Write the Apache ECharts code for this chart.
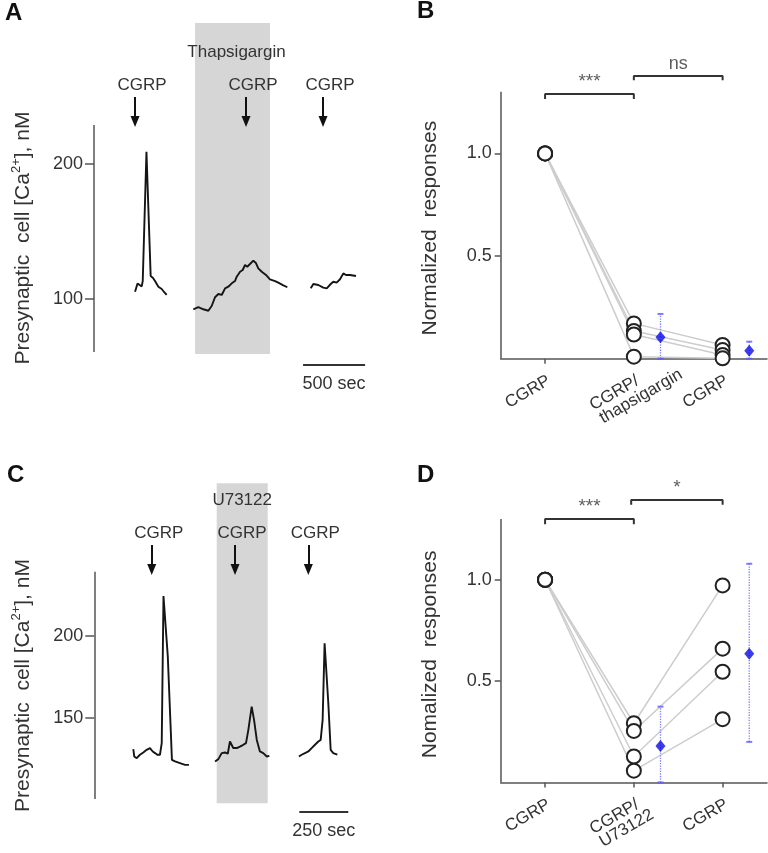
<!DOCTYPE html>
<html><head><meta charset="utf-8">
<script src="https://cdn.jsdelivr.net/npm/echarts@6/dist/echarts.min.js"></script>
<style>html,body{margin:0;padding:0;background:#fff}#c{width:768px;height:853px}</style>
</head><body><div id="c"></div>
<script>
// ================= DATA =================
// Panel A: presynaptic [Ca2+] (nM) vs time (s)
const traceA1 = [[331,105.4],[351,111.5],[367,112.6],[385,109.3],[393,113.3],[423,209.1],[457,117],[476,115.6],[492,113.3],[519,109.1],[546,107.4],[565,105.2],[586,103]];
const traceA2 = [[801,92.4],[841,93.9],[882,92.4],[922,91.3],[949,94.8],[976,101.3],[1003,103.7],[1030,103],[1057,107.9],[1083,109.1],[1111,111.6],[1137,113.3],[1151,116.5],[1178,120.2],[1199,121.5],[1218,125.2],[1236,123.9],[1258,125.9],[1285,128.4],[1304,126.9],[1325,122.7],[1353,120.2],[1387,117.8],[1419,114.6],[1460,113.3],[1486,112.1],[1527,110.1],[1559,108.7]];
const traceA3 = [[1748,107.9],[1769,111.1],[1809,110.4],[1849,108.4],[1877,107.9],[1909,111.1],[1930,112.8],[1957,112.1],[1984,114.6],[2011,119],[2032,117.8],[2065,117.8],[2113,117]];
const cgrpTimesA = [331, 1226, 1847];
const drugA = 'Thapsigargin';
const drugWindowA = [815, 1419];
const scaleBarA = [1686, 2186];
const scaleLabelA = '500 sec';
const yTicksA = [100, 200];

// Panel C
const traceC1 = [[199,130.6],[204,126.1],[216,125.1],[233,127.2],[250,128.6],[267,130.2],[284,131.3],[298,129.2],[310,128.2],[321,127.2],[335,127.2],[344,134.3],[353,224.5],[375,187.4],[390,142.5],[396,124.1],[412,123.1],[437,122.1],[463,121],[483,121]];
const traceC2 = [[616,123.1],[633,124.5],[650,128.2],[667,128.6],[681,127.8],[692,135.3],[701,136.3],[709,131.3],[727,131.3],[743,132.2],[760,133.3],[774,134.3],[786,142.5],[803,156.7],[815,148.6],[829,136.3],[845,129.2],[862,128.2],[880,126.1],[893,126.5]];
const traceC3 = [[1044,126.1],[1058,127.2],[1075,128.2],[1092,129.2],[1109,131.3],[1126,133.3],[1143,135.3],[1155,136.3],[1165,148.6],[1175,195.6],[1194,158.8],[1206,130.2],[1219,128.2],[1240,127.2]];
const cgrpTimesC = [293, 718, 1092];
const drugC = 'U73122';
const drugWindowC = [624.5, 884.7];
const scaleBarC = [1046, 1296];
const scaleLabelC = '250 sec';
const yTicksC = [150, 200];

// Panel B: normalized responses (one row per cell: CGRP, CGRP/thapsigargin, CGRP)
const catsB = ['CGRP', 'CGRP/\nthapsigargin', 'CGRP'];
const cellsB = [[1, 0.172, 0.067], [1, 0.135, 0.042], [1, 0.118, 0.018], [1, 0.01, 0.002]];
const meanB = [0.104, 0.039];
const errHighB = [0.218, 0.083];
const errLowB = [0, 0];
const sigB = ['***', 'ns'];

// Panel D
const catsD = ['CGRP', 'CGRP/\nU73122', 'CGRP'];
const cellsD = [[1, 0.292, 0.972], [1, 0.254, 0.660], [1, 0.128, 0.546], [1, 0.058, 0.312]];
const meanD = [0.18, 0.635];
const errHighD = [0.374, 1.079];
const errLowD = [0, 0.2];
const sigD = ['***', '*'];
const yTicksBD = [0.5, 1.0];

// ================= LAYOUT / STYLE =================
const F = 'Liberation Sans, Arial, Helvetica, sans-serif';
const TXT = '#333';
const AX = '#555';
const layoutA = { axisRange: [60.7, 228.9], arrow: [249.6, 231.5], band: [59.3, 304.4], bar: 51.1, drugDist: 21, drugPad: 8 };
const layoutC = { axisRange: [100, 239.4], arrow: [255.8, 240.8], band: [97.4, 293.7], bar: 92.3, drugDist: 9, drugPad: 0 };
const meanOffset = 0.3;
const bracketsB = [{ x: [1, 2], top: 1.289, leg: 1.265 }, { x: [2, 3], top: 1.377, leg: 1.356 }];
const bracketsD = [{ x: [1, 2], top: 1.30, leg: 1.274 }, { x: [1.97, 3], top: 1.394, leg: 1.37 }];

const grids = [
  { left: 94, top: 2, width: 272.8, height: 405 },
  { left: 500.7, top: 40.5, width: 266.3, height: 318.2 },
  { left: 94.3, top: 473, width: 254.8, height: 375 },
  { left: 500.7, top: 468.3, width: 266.3, height: 315.1 }
];

function traceAxisY(gi, min, max, ticks, nameShift) {
  return {
    gridIndex: gi, type: 'value', min, max,
    axisLine: { show: false }, splitLine: { show: false },
    axisTick: { show: true, customValues: ticks, length: 9, lineStyle: { color: AX, width: 1.5 } },
    axisLabel: { customValues: ticks, margin: 11, fontSize: 18, color: TXT, fontFamily: F },
    name: '{n|Presynaptic  cell [Ca}{s|2+}{n|], nM}',
    nameLocation: 'middle', nameRotate: 90, nameGap: 58,
    nameTextStyle: {
      padding: [0, nameShift, 0, 0],
      rich: {
        n: { fontSize: 21, lineHeight: 26, color: TXT, fontFamily: F },
        s: { fontSize: 13, lineHeight: 13, verticalAlign: 'top', color: TXT, fontFamily: F }
      }
    }
  };
}
function respAxisY(gi, name, nameShift) {
  return {
    gridIndex: gi, type: 'value', min: 0, max: 1.55,
    axisLine: { show: false }, splitLine: { show: false },
    axisTick: { show: true, customValues: yTicksBD, length: 6, lineStyle: { color: AX, width: 1.5 } },
    axisLabel: { customValues: yTicksBD, formatter: v => v.toFixed(1), margin: 9, fontSize: 18, color: TXT, fontFamily: F },
    name, nameLocation: 'middle', nameRotate: 90, nameGap: 60,
    nameTextStyle: { fontSize: 21, color: TXT, fontFamily: F, padding: [0, nameShift, 0, 0] }
  };
}
function respAxisX(gi, cats) {
  return {
    gridIndex: gi, type: 'value', min: 0.5, max: 3.5,
    axisLine: { show: true, onZero: false, lineStyle: { color: AX, width: 1.5 } },
    splitLine: { show: false },
    axisTick: { show: true, customValues: [1, 2, 3], length: 5, lineStyle: { color: AX, width: 1.5 } },
    axisLabel: {
      customValues: [1, 2, 3], rotate: 30, margin: 14, verticalAlign: 'top',
      fontSize: 17, lineHeight: 16, color: TXT, fontFamily: F,
      formatter: v => {
        const s = cats[Math.round(v) - 1];
        if (s.indexOf('\n') >= 0) {
          const p = s.split('\n');
          return '{a|' + p[0] + '}\n{b|' + p[1] + '}';
        }
        return s;
      },
      rich: {
        a: { width: 52, align: 'right', overflow: 'none', fontSize: 17, lineHeight: 16, color: TXT, fontFamily: F },
        b: { width: 52, align: 'left', overflow: 'none', fontSize: 17, lineHeight: 16, color: TXT, fontFamily: F }
      }
    }
  };
}

function traceSeries(data, gi) {
  return { type: 'line', xAxisIndex: gi, yAxisIndex: gi, data, symbol: 'none', showSymbol: false, silent: true, z: 4,
    lineStyle: { color: '#151515', width: 1.9 } };
}
function traceFrame(gi, L, cgrpTimes, drug, win, bar, barLabel) {
  const lines = [[{ coord: [0, L.axisRange[0]] }, { coord: [0, L.axisRange[1]] }]];
  cgrpTimes.forEach(t => {
    lines.push([
      { coord: [t, L.arrow[0]], symbol: 'none', lineStyle: { color: '#111', width: 2, type: 'solid' },
        label: { show: true, position: 'start', formatter: 'CGRP', distance: 3, fontSize: 17, color: TXT, fontFamily: F, padding: [0, 0, 0, 14] } },
      { coord: [t, L.arrow[1]], symbol: 'triangle', symbolSize: [9, 11] }
    ]);
  });
  lines.push([
    { coord: [bar[0], L.bar], lineStyle: { color: '#333', width: 2, type: 'solid' },
      label: { show: true, position: 'insideMiddleBottom', formatter: barLabel, distance: 10, fontSize: 18, color: TXT, fontFamily: F } },
    { coord: [bar[1], L.bar] }
  ]);
  return {
    type: 'line', xAxisIndex: gi, yAxisIndex: gi, data: [], silent: true,
    markArea: {
      silent: true, itemStyle: { color: '#d6d6d6' },
      label: { show: true, position: 'insideTop', distance: L.drugDist, fontSize: 17, color: TXT, fontFamily: F, padding: [0, 0, 0, L.drugPad] },
      data: [[{ name: drug, coord: [win[0], L.band[0]] }, { coord: [win[1], L.band[1]] }]]
    },
    markLine: {
      silent: true, symbol: 'none', animation: false,
      label: { show: false },
      lineStyle: { color: AX, width: 1.5, type: 'solid' },
      data: lines
    }
  };
}

function respSeries(gi, cells, mean, hi, lo, sig, brackets) {
  const s = [];
  s.push({ type: 'line', xAxisIndex: gi, yAxisIndex: gi, data: [], silent: true,
    markLine: { silent: true, symbol: 'none', animation: false, label: { show: false },
      lineStyle: { color: AX, width: 1.5, type: 'solid' },
      data: [[{ coord: [0.5, 0] }, { coord: [0.5, 1.3] }]] } });
  cells.forEach(c => s.push({ type: 'line', xAxisIndex: gi, yAxisIndex: gi, silent: true, z: 2,
    data: c.map((v, i) => [i + 1, v]), symbol: 'none', showSymbol: false,
    lineStyle: { color: '#cdcdcd', width: 1.5 } }));
  const pts = [];
  cells.forEach(c => c.forEach((v, i) => pts.push([i + 1, v])));
  s.push({ type: 'scatter', xAxisIndex: gi, yAxisIndex: gi, silent: true, z: 5, data: pts,
    symbol: 'circle', symbolSize: 14, itemStyle: { color: '#fff', borderColor: '#222', borderWidth: 2, opacity: 1 } });
  mean.forEach((m, i) => {
    const x = i + 2 + meanOffset;
    s.push({ type: 'line', xAxisIndex: gi, yAxisIndex: gi, silent: true, z: 3,
      data: [[x, lo[i]], [x, hi[i]]], symbol: 'none', showSymbol: false,
      lineStyle: { color: '#8080ff', width: 1.3, type: 'dotted' } });
    s.push({ type: 'scatter', xAxisIndex: gi, yAxisIndex: gi, silent: true, z: 4,
      data: [[x, lo[i]], [x, hi[i]]], symbol: 'rect', symbolSize: [6, 2], itemStyle: { color: '#5c5cff' } });
    s.push({ type: 'scatter', xAxisIndex: gi, yAxisIndex: gi, silent: true, z: 6,
      data: [[x, m]], symbol: 'diamond', symbolSize: [10, 12], itemStyle: { color: '#0b0be6' } });
  });
  brackets.forEach((b, i) => {
    s.push({ type: 'line', xAxisIndex: gi, yAxisIndex: gi, silent: true, z: 3,
      data: [[b.x[0], b.leg], [b.x[0], b.top], [b.x[1], b.top], [b.x[1], b.leg]],
      symbol: 'none', showSymbol: false, lineStyle: { color: '#333', width: 2 } });
    s.push({ type: 'scatter', xAxisIndex: gi, yAxisIndex: gi, silent: true, z: 3,
      data: [[(b.x[0] + b.x[1]) / 2, b.top]], symbolSize: 0,
      label: { show: true, position: 'top', distance: 3, formatter: sig[i], fontSize: sig[i] === 'ns' ? 18 : 19, color: TXT, fontFamily: F } });
  });
  return s;
}

const chart = echarts.init(document.getElementById('c'), null, { renderer: 'canvas' });
chart.setOption({
  animation: false,
  backgroundColor: '#fff',
  grid: grids,
  xAxis: [
    { gridIndex: 0, type: 'value', min: 0, max: 2200, show: false },
    respAxisX(1, catsB),
    { gridIndex: 2, type: 'value', min: 0, max: 1300, show: false },
    respAxisX(3, catsD)
  ],
  yAxis: [
    traceAxisY(0, 20, 320, yTicksA, 67),
    respAxisY(1, 'Normalized  responses', 57),
    traceAxisY(2, 70, 300, yTicksC, 50),
    respAxisY(3, 'Nomalized  responses', 58)
  ],
  graphic: [
    { type: 'text', x: 5, y: 1, style: { text: 'A', fontSize: 24, fontWeight: 'bold', fontFamily: F, fill: '#111' } },
    { type: 'text', x: 417, y: -1, style: { text: 'B', fontSize: 24, fontWeight: 'bold', fontFamily: F, fill: '#111' } },
    { type: 'text', x: 7, y: 463, style: { text: 'C', fontSize: 24, fontWeight: 'bold', fontFamily: F, fill: '#111' } },
    { type: 'text', x: 417, y: 463, style: { text: 'D', fontSize: 24, fontWeight: 'bold', fontFamily: F, fill: '#111' } }
  ],
  series: [
    traceFrame(0, layoutA, cgrpTimesA, drugA, drugWindowA, scaleBarA, scaleLabelA),
    traceSeries(traceA1, 0), traceSeries(traceA2, 0), traceSeries(traceA3, 0),
    traceFrame(2, layoutC, cgrpTimesC, drugC, drugWindowC, scaleBarC, scaleLabelC),
    traceSeries(traceC1, 2), traceSeries(traceC2, 2), traceSeries(traceC3, 2),
    ...respSeries(1, cellsB, meanB, errHighB, errLowB, sigB, bracketsB),
    ...respSeries(3, cellsD, meanD, errHighD, errLowD, sigD, bracketsD)
  ]
});
</script></body></html>
